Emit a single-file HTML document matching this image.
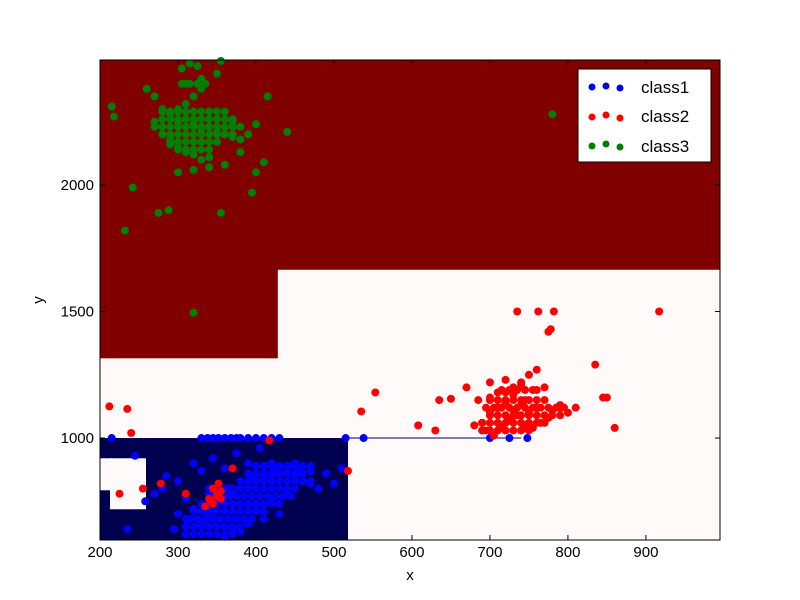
<!DOCTYPE html>
<html><head><meta charset="utf-8"><style>
body{margin:0;background:#fff;}
svg{display:block;font-family:"Liberation Sans",sans-serif;}
</style></head><body>
<svg id="chart" width="800" height="600" xmlns="http://www.w3.org/2000/svg">
<rect width="800" height="600" fill="#fff"/>
<g id="regions"></g>
<g id="points"></g>
<rect x="100" y="60" width="620" height="480" fill="none" stroke="#000" stroke-width="1"/>
<g id="axes"></g>
<text x="410" y="580" text-anchor="middle" font-size="15">x</text>
<text x="43" y="300" text-anchor="middle" font-size="15" transform="rotate(-90 43 300)">y</text>
<g>
<rect x="578" y="69" width="133" height="93" fill="#fff" stroke="#000"/>
<g><circle cx="592" cy="87" r="3.5" fill="#0000ff"/><circle cx="606" cy="86" r="3.5" fill="#0000ff"/><circle cx="620" cy="88" r="3.5" fill="#0000ff"/><text x="641" y="93" font-size="17">class1</text></g>
<g><circle cx="592" cy="117" r="3.5" fill="#ff0000"/><circle cx="606" cy="115" r="3.5" fill="#ff0000"/><circle cx="620" cy="118" r="3.5" fill="#ff0000"/><text x="641" y="122" font-size="17">class2</text></g>
<g><circle cx="592" cy="146" r="3.5" fill="#008000"/><circle cx="606" cy="144" r="3.5" fill="#008000"/><circle cx="620" cy="147" r="3.5" fill="#008000"/><text x="641" y="152" font-size="17">class3</text></g>
</g>
</svg>
<script>
const xTicks=[200,300,400,500,600,700,800,900];
const yTicks=[1000,1500,2000];
const class1X=[215,330,338,345,352,360,368,375,380,390,400,410,420,430,515,538,700,725,748,245,258,235,300,310,320,330,340,350,360,370,380,390,400,410,420,430,440,450,460,470,480,350,370,390,410,430,330,360,380,400,420,440,310,340,365,395,425,455,320,345,375,405,300,285,330,360,390,420,450,470,490,500,510,270,280,295,
 340,350,360,370,380,390,400,410,420,430,440,450,
 345,355,365,375,385,395,405,415,425,435,445,
 330,340,350,360,370,380,390,400,410,420,430,
 320,330,340,350,360,370,380,390,400,410,
 315,325,335,345,355,365,375,385,395,
 310,320,330,340,350,360,370,380,
 380,390,400,410,420,430,440,450,460,470,
 390,400,410,420,430,440,450,460,
 310,320,330,340,350,360,370,
 400,410,420,430,440,450,460,470];
const class1Y=[1000,1000,1000,1000,1000,1000,1000,1000,1000,1000,1000,1000,1000,1000,1000,1000,1000,1000,1000,930,750,640,700,680,720,660,700,740,760,780,800,820,830,840,850,860,870,850,830,820,800,650,640,660,680,700,620,610,630,720,760,780,760,780,800,840,870,880,900,920,940,960,830,850,870,880,900,900,900,870,860,820,880,780,800,640,
 800,800,800,800,800,800,800,800,800,800,800,800,
 770,770,770,770,770,770,770,770,770,770,770,
 740,740,740,740,740,740,740,740,740,740,740,
 710,710,710,710,710,710,710,710,710,710,
 680,680,680,680,680,680,680,680,680,
 650,650,650,650,650,650,650,650,
 830,830,830,830,830,830,830,830,830,830,
 860,860,860,860,860,860,860,860,
 620,620,620,620,620,620,620,
 890,890,890,890,890,890,890,890];
const class2X=[917,735,762,782,778,775,835,860,850,845,608,630,635,650,553,535,212,235,240,518,417,370,225,278,255,310,340,345,350,335,355,700,710,720,730,740,750,760,770,780,790,800,810,690,695,705,715,725,735,745,755,765,775,720,730,740,750,760,700,710,730,745,770,790,680,670,685,700,720,740,760,
 345,350,355,342,352,
 695,705,715,725,735,745,755,765,775,785,795,
 700,710,720,730,740,750,760,770,780,790,
 690,700,710,720,730,740,750,760,770,
 700,710,720,730,740,750,760,
 715,725,735,745,755,
 690,700,710,720,730,740,750];
const class2Y=[1500,1500,1500,1500,1430,1420,1290,1040,1160,1160,1050,1030,1150,1155,1180,1105,1125,1115,1020,870,990,880,780,820,800,780,760,740,770,730,790,1100,1120,1140,1110,1130,1100,1120,1150,1110,1120,1100,1120,1060,1030,1010,1040,1070,1090,1050,1040,1060,1080,1180,1200,1220,1250,1270,1160,1180,1170,1150,1200,1130,1050,1200,1150,1220,1230,1210,1190,
 800,780,760,750,820,
 1120,1120,1120,1120,1120,1120,1120,1120,1120,1120,1120,
 1090,1090,1090,1090,1090,1090,1090,1090,1090,1090,
 1060,1060,1060,1060,1060,1060,1060,1060,1060,
 1150,1150,1150,1150,1150,1150,1150,
 1190,1190,1190,1190,1190,
 1030,1030,1030,1030,1030,1030,1030];
const class3X=[215,218,232,242,275,288,320,355,395,400,415,440,780,355,260,270,280,290,300,310,320,330,340,350,360,370,380,390,300,310,320,330,340,300,310,320,330,280,290,310,330,350,370,300,320,340,360,305,315,325,290,270,380,400,410,
 280,290,300,310,320,330,340,350,360,370,
 270,280,290,300,310,320,330,340,350,360,370,380,
 280,290,300,310,320,330,340,350,360,370,
 290,300,310,320,330,340,350,
 300,310,320,330,340,
 305,315,325,335,
 280,290,300,310,320,330,340,350,360];
const class3Y=[2310,2270,1820,1990,1890,1900,1495,1890,1970,2050,2350,2210,2280,2490,2380,2350,2300,2280,2250,2260,2240,2220,2230,2210,2200,2190,2180,2200,2150,2130,2120,2100,2110,2300,2320,2350,2380,2200,2160,2400,2420,2440,2250,2050,2060,2070,2080,2460,2480,2470,2180,2250,2130,2240,2090,
 2260,2260,2260,2260,2260,2260,2260,2260,2260,2260,
 2230,2230,2230,2230,2230,2230,2230,2230,2230,2230,2230,2230,
 2200,2200,2200,2200,2200,2200,2200,2200,2200,2200,
 2170,2170,2170,2170,2170,2170,2170,
 2140,2140,2140,2140,2140,
 2400,2400,2400,2400,
 2290,2290,2290,2290,2290,2290,2290,2290,2290];
const X=v=>100+(v-200)*620/795;
const Y=v=>540-(v-597)*480/1897;
const NS="http://www.w3.org/2000/svg";
function mk(tag,attrs,parent){const e=document.createElementNS(NS,tag);for(const k in attrs)e.setAttribute(k,attrs[k]);parent.appendChild(e);return e;}
const reg=document.getElementById('regions');
let r;
r=mk('rect',{x:100,y:60,width:620,height:480,fill:'#fffafa'},reg);


r=mk('rect',{x:100,y:60,width:620,height:Y(1665)-60,fill:'#800000'},reg);


r=mk('rect',{x:100,y:60,width:X(428)-100,height:Y(1315)-60,fill:'#800000'},reg);


r=mk('rect',{x:100,y:Y(1000),width:X(518)-100,height:540-Y(1000),fill:'#000050'},reg);


r=mk('rect',{x:110,y:Y(920),width:36,height:51,fill:'#fffafa'},reg);


r=mk('rect',{x:100,y:Y(920),width:12,height:32,fill:'#fffafa'},reg);


r=mk('line',{x1:X(518),x2:X(740),y1:Y(1000),y2:Y(1000),stroke:'#000050','stroke-width':1},reg);


const pts=document.getElementById('points');
function series(xs,ys,col,name){xs.forEach((x,i)=>{const c=mk('circle',{cx:X(x),cy:Y(ys[i]),r:4,fill:col},pts);

});}
series(class1X,class1Y,'#0000ff','class1');
series(class3X,class3Y,'#008000','class3');
series(class2X,class2Y,'#ff0000','class2');
const ax=document.getElementById('axes');
xTicks.forEach(t=>{const x=X(t);mk('line',{x1:x,x2:x,y1:540,y2:535,stroke:'#000'},ax);mk('line',{x1:x,x2:x,y1:60,y2:65,stroke:'#000'},ax);
const tx=mk('text',{x:x,y:557,'text-anchor':'middle','font-size':15},ax);tx.textContent=t;

});
yTicks.forEach(t=>{const y=Y(t);mk('line',{x1:100,x2:105,y1:y,y2:y,stroke:'#000'},ax);mk('line',{x1:720,x2:715,y1:y,y2:y,stroke:'#000'},ax);
const tx=mk('text',{x:94,y:y+5,'text-anchor':'end','font-size':15},ax);tx.textContent=t;

});
</script>
</body></html>
